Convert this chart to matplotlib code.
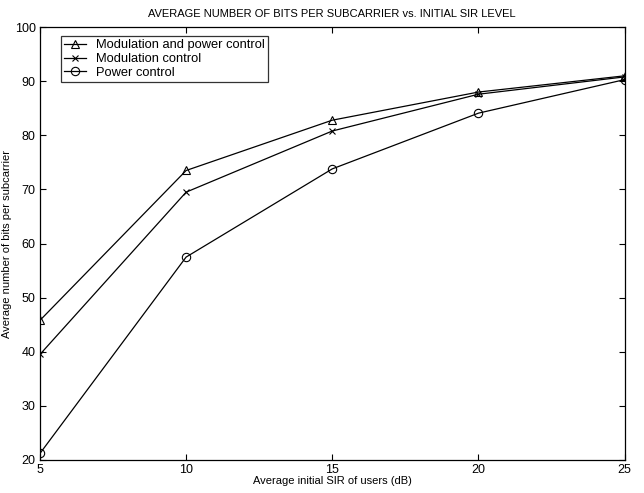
import matplotlib
matplotlib.use("Agg")
import matplotlib.pyplot as plt

plt.rcParams['font.family'] = ['Liberation Sans', 'DejaVu Sans']

sir = [5, 10, 15, 20, 25]
mod_power = [45.8, 73.5, 82.8, 88.0, 91.0]
mod_only = [39.5, 69.5, 80.8, 87.6, 90.8]
power_only = [21.2, 57.5, 73.8, 84.1, 90.3]

fig = plt.figure(figsize=(6.44, 4.93), dpi=100)
ax = fig.add_axes([0.062, 0.067, 0.908, 0.878])

lw = 0.9
ax.plot(sir, mod_power, color='black', lw=lw, marker='^', ms=6, mfc='none', mew=0.8,
        label='Modulation and power control')
ax.plot(sir, mod_only, color='black', lw=lw, marker='x', ms=4.5, mew=0.8,
        label='Modulation control')
ax.plot(sir, power_only, color='black', lw=lw, marker='o', ms=6, mfc='none', mew=0.8,
        label='Power control')

ax.set_xlim(5, 25)
ax.set_ylim(20, 100)
ax.set_xticks([5, 10, 15, 20, 25])
ax.set_yticks(range(20, 101, 10))
ax.tick_params(direction='in', top=True, right=True, labelsize=9, length=4, width=0.8, pad=3)
for s in ax.spines.values():
    s.set_linewidth(0.9)

ax.set_title('AVERAGE NUMBER OF BITS PER SUBCARRIER vs. INITIAL SIR LEVEL', fontsize=8, pad=7)
ax.set_xlabel('Average initial SIR of users (dB)', fontsize=8, labelpad=0)
ax.set_ylabel('Average number of bits per subcarrier', fontsize=8, labelpad=2)

leg = ax.legend(loc='upper left', bbox_to_anchor=(0.036, 0.979), borderaxespad=0,
                fontsize=9.3, frameon=True, fancybox=False,
                edgecolor='black', handlelength=1.7,
                borderpad=0.25, labelspacing=0.12, handletextpad=0.8)
leg.get_frame().set_linewidth(0.9)

fig.savefig('out.png', dpi=100)
